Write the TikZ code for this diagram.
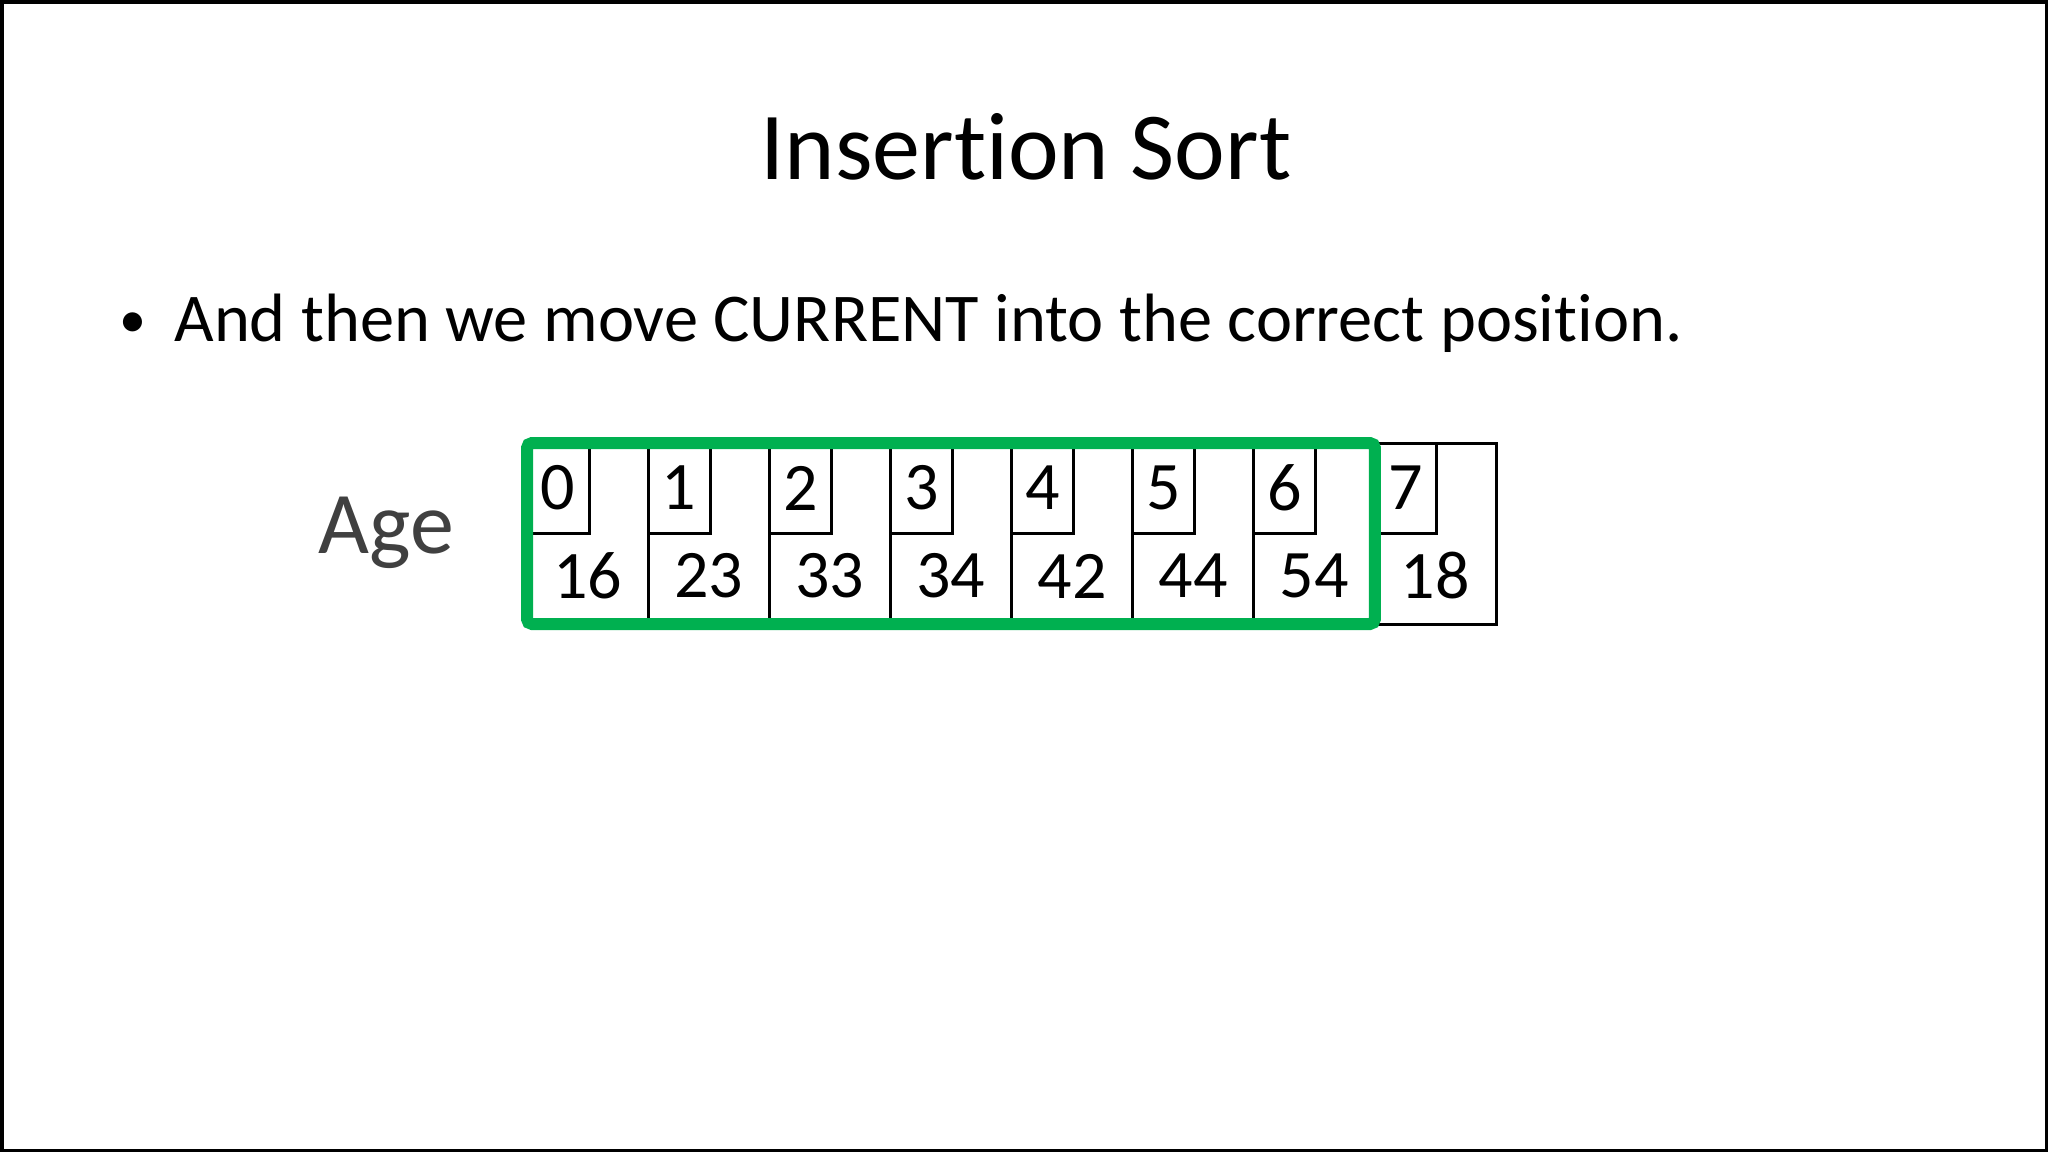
\documentclass[tikz,border=0pt]{standalone}
\usepackage{fontspec}
\setmainfont[Ligatures=NoCommon]{Carlito}
\definecolor{officegreen}{HTML}{00B050}
\begin{document}
\begin{tikzpicture}[x=0.5pt,y=-0.5pt,
  frame/.style={draw=black,line width=1.75pt},
  cellbox/.style={draw=black,line width=1.5pt,rectangle,minimum width=60.5625pt,minimum height=90.5pt,inner sep=0pt,outer sep=0pt},
  idxbox/.style={draw=black,line width=1.5pt,rectangle,minimum width=31pt,minimum height=45pt,inner sep=0pt,outer sep=0pt,anchor=north west,font=\fontsize{34}{40}\selectfont},
  valtext/.style={inner sep=0pt,font=\fontsize{34}{40}\selectfont},
  hilite/.style={draw=officegreen,line width=6pt,rounded corners=2.5pt}]
\useasboundingbox (0,0) rectangle (2048,1152);
\draw[frame] (1.75,1.75) rectangle (2046.25,1150.25);
\node[inner sep=0pt,anchor=base,font=\fontsize{48}{58}\selectfont] (title) at (1026,179) {Insertion Sort};
\node[inner sep=0pt,anchor=base west,font=\fontsize{27}{32}\selectfont] (bullet) at (119,337) {•};
\node[inner sep=0pt,anchor=base west,font=\fontsize{34.2}{40}\selectfont] (body) at (174,341) {And then we move CURRENT into the correct position.};
\node[inner sep=0pt,anchor=base west,text=black!75,font=\fontsize{44}{52}\selectfont] (age) at (318,553) {Age};
\foreach \i/\v in {0/16,1/23,2/33,3/34,4/42,5/44,6/54,7/18}{
  \node[cellbox] (c\i) at ({587.56+121.125*\i},533.5) {};
  \node[idxbox] (i\i) at (c\i.north west) {\i};
  \node[valtext] (v\i) at ({587.56+121.125*\i},576) {\v};
}
\draw[hilite] (c0.north west) rectangle (c6.south east);
\end{tikzpicture}
\end{document}
